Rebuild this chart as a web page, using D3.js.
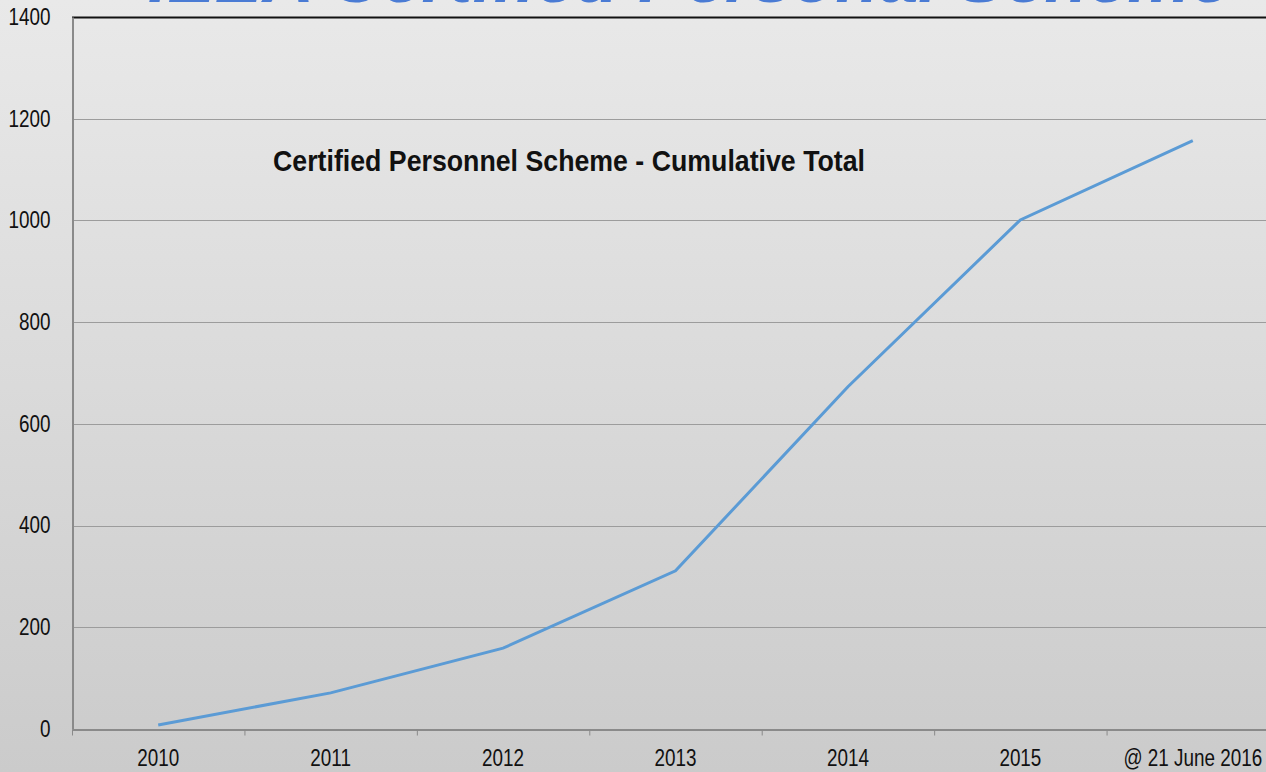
<!DOCTYPE html>
<html>
<head>
<meta charset="utf-8">
<script src="https://cdn.jsdelivr.net/npm/d3@7"></script>
<style>
  body { margin: 0; overflow: hidden; }
  svg text { font-family: "Liberation Sans", Arial, sans-serif; }
</style>
</head>
<body>
<svg id="chart" width="1266" height="772"></svg>
<script>
var categories = ["2010", "2011", "2012", "2013", "2014", "2015", "@ 21 June 2016"];
var totals = [8, 71, 159, 311, 673, 1001, 1157];
var yTicks = [0, 200, 400, 600, 800, 1000, 1200, 1400];
var pageTitle = "IEEA Certified Personal Scheme";
var chartTitle = "Certified Personnel Scheme - Cumulative Total";

var svg = d3.select("#chart"),
  width = +svg.attr("width"),
  height = +svg.attr("height");

// squeeze text horizontally to mimic a narrow font
function narrow(sel, k) {
  sel.each(function () {
    var w = this.getComputedTextLength();
    d3.select(this).attr("textLength", w * k).attr("lengthAdjust", "spacingAndGlyphs");
  });
}

var defs = svg.append("defs");
var grad = defs.append("linearGradient").attr("id", "bg")
  .attr("x1", 0).attr("y1", 0).attr("x2", 0).attr("y2", 1);
grad.append("stop").attr("offset", "0%").attr("stop-color", "#e9e9e9");
grad.append("stop").attr("offset", "100%").attr("stop-color", "#cbcbcb");

svg.append("rect").attr("width", width).attr("height", height).attr("fill", "url(#bg)");

var plotLeft = 72, plotTop = 17, plotBottom = 729, plotRight = 1279;

var x = d3.scaleBand().domain(categories).range([plotLeft, plotRight]);
var y = d3.scaleLinear().domain([0, 1400]).range([plotBottom, plotTop]);

// page title, almost entirely cut off by the top edge
svg.append("text")
  .attr("x", 148).attr("y", 2)
  .attr("textLength", 1082)
  .attr("lengthAdjust", "spacingAndGlyphs")
  .style("font-weight", "bold").style("font-style", "italic")
  .style("font-size", "64px")
  .attr("fill", "#4a7bd4")
  .text(pageTitle);

// gridlines
svg.append("g").selectAll("line")
  .data(yTicks.filter(function (d) { return d > 0 && d < 1400; }))
  .enter().append("line")
  .attr("x1", plotLeft).attr("x2", width)
  .attr("y1", function (d) { return Math.round(y(d)) + 0.5; })
  .attr("y2", function (d) { return Math.round(y(d)) + 0.5; })
  .attr("stroke", "#9c9c9c").attr("stroke-width", 1);

// top border
svg.append("line")
  .attr("x1", plotLeft).attr("x2", width)
  .attr("y1", y(1400) + 0.5).attr("y2", y(1400) + 0.5)
  .attr("stroke", "#111").attr("stroke-width", 2);

// y axis
var yAxis = svg.append("g")
  .attr("transform", "translate(" + (plotLeft + 0.5) + ",0)")
  .call(d3.axisLeft(y).tickValues(yTicks).tickSize(0).tickPadding(22).tickFormat(d3.format("d")));
yAxis.select(".domain").attr("stroke", "#8a8a8a").attr("stroke-width", 2);
yAxis.selectAll("text").style("font-size", "23px").attr("fill", "#111").call(narrow, 0.82);

// x axis
var xAxis = svg.append("g")
  .attr("transform", "translate(0," + (plotBottom + 0.5) + ")")
  .call(d3.axisBottom(x).tickSize(0).tickPadding(20));
xAxis.select(".domain").attr("stroke", "#8a8a8a").attr("stroke-width", 2);
xAxis.selectAll("text").style("font-size", "23px").attr("fill", "#111").call(narrow, 0.82);
xAxis.selectAll(".sep")
  .data(d3.range(categories.length + 1))
  .enter().append("line").attr("class", "sep")
  .attr("x1", function (i) { return plotLeft + i * x.bandwidth() + 0.5; })
  .attr("x2", function (i) { return plotLeft + i * x.bandwidth() + 0.5; })
  .attr("y1", 0).attr("y2", 6)
  .attr("stroke", "#8a8a8a").attr("stroke-width", 1);

// line
var line = d3.line()
  .x(function (d, i) { return x(categories[i]) + x.bandwidth() / 2; })
  .y(function (d) { return y(d); });

svg.append("path")
  .datum(totals)
  .attr("d", line)
  .attr("fill", "none")
  .attr("stroke", "#5b9bd5")
  .attr("stroke-width", 3);

// chart title
svg.append("text")
  .attr("x", 273).attr("y", 171)
  .attr("textLength", 592)
  .attr("lengthAdjust", "spacingAndGlyphs")
  .style("font-size", "30px").style("font-weight", "bold")
  .attr("fill", "#111")
  .text(chartTitle);
</script>
</body>
</html>
